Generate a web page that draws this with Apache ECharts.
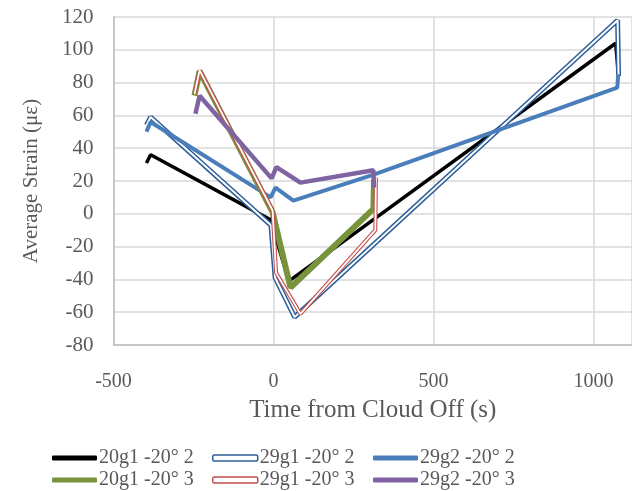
<!DOCTYPE html>
<html>
<head>
<meta charset="utf-8">
<script src="https://cdn.jsdelivr.net/npm/echarts@6/dist/echarts.min.js"></script>
<style>html,body{margin:0;padding:0;background:#fff;}#c{width:632px;height:491px;}</style>
</head>
<body>
<div id="c"></div>
<script>
// Series names
var seriesNames = ['20g1 -20° 2', '29g1 -20° 2', '29g2 -20° 2', '20g1 -20° 3', '29g1 -20° 3', '29g2 -20° 3'];
// Time (s) and strain (με) per series
var t20g1_2 = [-397, -384, -6, 6, 48, 1069, 1077];
var v20g1_2 = [31, 36, -4, -14, -41, 104, 86];
var t29g1_2 = [-397, -384, -8, 5, 66, 1075, 1078];
var v29g1_2 = [54, 59, -7, -39, -63, 118, 84];
var t29g2_2 = [-397, -384, -9, 6, 62, 315, 1074, 1077];
var v29g2_2 = [50, 56, 10, 16, 8, 24, 77, 85];
var t20g1_3 = [-247, -231, -3, 53, 312, 314];
var v20g1_3 = [72, 87, 1, -45, 3, 21];
var t29g1_3 = [-247, -231, -3, 8, 84, 318, 320];
var v29g1_3 = [73, 87.5, 2, -36, -61, -10, 22];
var t29g2_3 = [-244, -231, -6, 9, 84, 312, 314];
var v29g2_3 = [61, 72, 21.6, 28.4, 19, 26.5, 16];
// Axis ticks
var xTicks = [-500, 0, 500, 1000];
var yTicks = [-80, -60, -40, -20, 0, 20, 40, 60, 80, 100, 120];

function pairs(t, v) { return t.map(function (x, i) { return [x, v[i]]; }); }

var font = 'Liberation Serif';
var gray = '#595959';

var solid = [
  {name: seriesNames[0], data: pairs(t20g1_2, v20g1_2), color: '#000000', width: 3.5},
  {name: seriesNames[1], data: pairs(t29g1_2, v29g1_2), color: '#2c5d98', width: 5, inner: 2},
  {name: seriesNames[2], data: pairs(t29g2_2, v29g2_2), color: '#4a7ebb', width: 4},
  {name: seriesNames[3], data: pairs(t20g1_3, v20g1_3), color: '#77933c', width: 6},
  {name: seriesNames[4], data: pairs(t29g1_3, v29g1_3), color: '#c0504d', width: 4, inner: 1.8},
  {name: seriesNames[5], data: pairs(t29g2_3, v29g2_3), color: '#8064a2', width: 4.5}
];

var series = [];
solid.forEach(function (s) {
  series.push({
    name: s.name, type: 'line', data: s.data, showSymbol: false, symbol: 'none',
    lineStyle: {color: s.color, width: s.width}, itemStyle: {color: s.color},
    animation: false, z: 2
  });
  if (s.inner) {
    series.push({
      name: s.name + '_in', type: 'line', data: s.data, showSymbol: false, symbol: 'none',
      lineStyle: {color: '#ffffff', width: s.inner}, silent: true, animation: false, z: 2
    });
  }
});

var legendPos = [[52, 448], [212, 448], [373, 448], [52, 470], [212, 470], [373, 470]];
var legends = solid.map(function (s, i) {
  var it = s.inner ? {color: '#ffffff', borderColor: s.color, borderWidth: 1.5} : {color: s.color, borderWidth: 0};
  return {
    left: legendPos[i][0], top: legendPos[i][1], orient: 'horizontal', padding: 0,
    itemWidth: 45, itemHeight: s.inner ? 6 : 5, itemGap: 0, selectedMode: false,
    data: [{name: s.name, icon: 'roundRect', itemStyle: it}],
    textStyle: {fontFamily: font, fontSize: 20, color: gray, padding: [0, 0, 0, -3]}
  };
});

var chart = echarts.init(document.getElementById('c'), null, {renderer: 'canvas'});
chart.setOption({
  backgroundColor: '#ffffff',
  animation: false,
  grid: {left: 113.5, right: 0, top: 17, bottom: 146, containLabel: false},
  legend: legends,
  xAxis: {
    type: 'value', min: -500, max: 1120, interval: 500,
    name: 'Time from Cloud Off (s)', nameLocation: 'middle', nameGap: 53,
    nameTextStyle: {fontFamily: font, fontSize: 25, color: gray},
    axisLine: {show: true, onZero: false, lineStyle: {color: '#bfbfbf', width: 1.5}},
    axisTick: {show: false},
    axisLabel: {fontFamily: font, fontSize: 20, color: gray, margin: 27, showMaxLabel: false,
      formatter: function (v) { return xTicks.indexOf(v) >= 0 ? String(v) : ''; }},
    splitLine: {show: true, lineStyle: {color: '#d9d9d9', width: 1.5}}
  },
  yAxis: {
    type: 'value', min: -80, max: 120, interval: 20,
    name: 'Average Strain (με)', nameLocation: 'middle', nameGap: 72,
    nameTextStyle: {fontFamily: font, fontSize: 21, color: gray},
    axisLine: {show: true, onZero: false, lineStyle: {color: '#bfbfbf', width: 1.5}},
    axisTick: {show: false},
    axisLabel: {fontFamily: font, fontSize: 21, color: gray, margin: 20,
      formatter: function (v) { return yTicks.indexOf(v) >= 0 ? String(v) : ''; }},
    splitLine: {show: true, lineStyle: {color: '#d9d9d9', width: 1.5}}
  },
  series: series
});
</script>
</body>
</html>
